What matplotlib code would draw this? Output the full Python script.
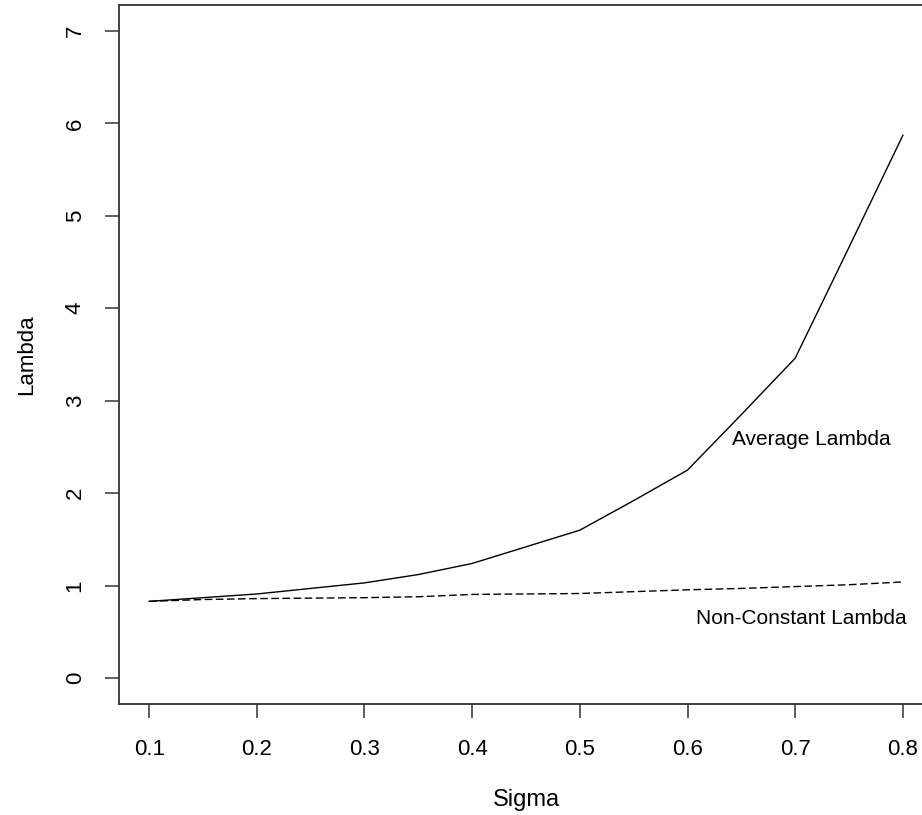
import matplotlib
matplotlib.use("Agg")
import matplotlib.pyplot as plt
from matplotlib import font_manager

names = {f.name for f in font_manager.fontManager.ttflist}
fam = ["Liberation Sans Narrow"] if "Liberation Sans Narrow" in names else ["Liberation Sans"]
plt.rcParams['font.family'] = fam + ["DejaVu Sans"]

sigma = [0.10, 0.15, 0.20, 0.25, 0.30, 0.35, 0.40, 0.45, 0.50, 0.55, 0.60, 0.65, 0.70, 0.75, 0.80]
avg_lambda = [0.83, 0.87, 0.91, 0.97, 1.03, 1.12, 1.24, 1.42, 1.60, 1.92, 2.25, 2.85, 3.46, 4.66, 5.87]
nonconst_lambda = [0.83, 0.85, 0.86, 0.865, 0.87, 0.88, 0.905, 0.91, 0.915, 0.935, 0.955, 0.97, 0.99, 1.01, 1.04]

xticks = [0.1, 0.2, 0.3, 0.4, 0.5, 0.6, 0.7, 0.8]
yticks = [0, 1, 2, 3, 4, 5, 6, 7]

W, H = 922, 815
fig = plt.figure(figsize=(W / 100, H / 100), dpi=100)
ax = fig.add_axes([119 / W, (815 - 704) / H, (933 - 119) / W, (704 - 5) / H])

ax.plot(sigma, avg_lambda, color='black', lw=1.0)
ax.plot(sigma, nonconst_lambda, color='black', lw=1.0, linestyle=(0, (5.5, 2.5)))

ax.set_xlim(0.072, 0.828)
ax.set_ylim(-0.28, 7.28)
ax.set_xticks(xticks)
ax.set_xticklabels([f"{v:.1f}" for v in xticks])
ax.set_yticks(yticks)
ax.set_yticklabels([str(v) for v in yticks], rotation=90, va='center', ha='right')

for s in ax.spines.values():
    s.set_color('#333333')
    s.set_linewidth(1.3)
ax.tick_params(axis='both', length=10, width=1.1, color='#333333', labelsize=16, labelcolor='black')
ax.tick_params(axis='x', pad=15)
ax.tick_params(axis='y', pad=14)

ax.text(0.715, 2.58, "Average Lambda", ha='center', va='center', fontsize=15)
ax.text(0.706, 0.65, "Non-Constant Lambda", ha='center', va='center', fontsize=15)

fig.text(526 / W, 1 - 800 / H, "Sigma", ha='center', va='center', fontsize=17)
fig.text(27 / W, 1 - 355 / H, "Lambda", ha='center', va='center', rotation=90, fontsize=16)

fig.savefig("out.png", dpi=100)
